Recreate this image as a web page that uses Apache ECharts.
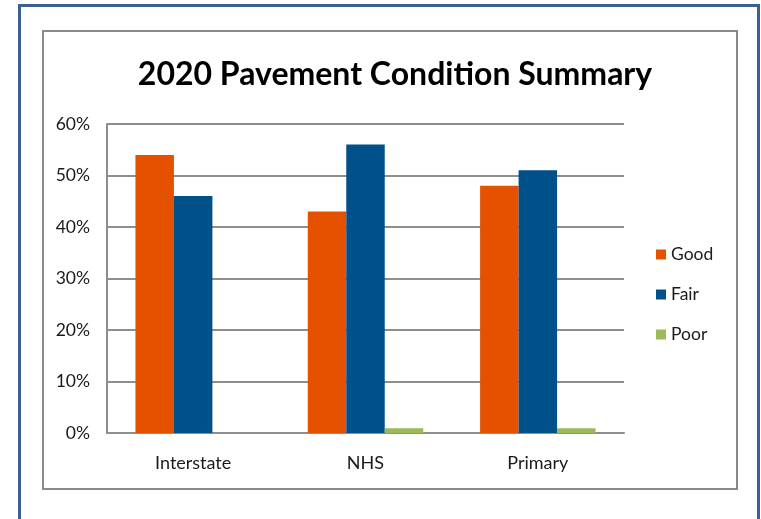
<!DOCTYPE html>
<html>
<head>
<meta charset="utf-8">
<script src="https://cdn.jsdelivr.net/npm/echarts@6/dist/echarts.min.js"></script>
<style>html,body{margin:0;padding:0;background:#fff;}#c{width:761px;height:519px;}</style>
</head>
<body>
<div id="c"></div>
<script>
var categories = ['Interstate', 'NHS', 'Primary'];
var good = [54, 43, 48];
var fair = [46, 56, 51];
var poor = [0, 0.9, 0.9];
var yTicks = [0, 10, 20, 30, 40, 50, 60];

var chart = echarts.init(document.getElementById('c'));
var font = 'Lato';
chart.setOption({
  animation: false,
  backgroundColor: '#ffffff',
  title: {
    text: '2020 Pavement Condition Summary',
    left: 390, top: 54, textAlign: 'center',
    textStyle: { fontFamily: font, fontWeight: 'bold', fontSize: 32, color: '#000' }
  },
  legend: {
    orient: 'vertical', left: 656, top: 244, padding: 0,
    itemWidth: 10, itemHeight: 10, itemGap: 19,
    icon: 'rect',
    textStyle: { fontFamily: font, fontSize: 17.5, color: '#1a1a1a', lineHeight: 21 },
    data: ['Good', 'Fair', 'Poor']
  },
  grid: { left: 107, right: 137, top: 124, bottom: 86, containLabel: false },
  xAxis: {
    type: 'category', data: categories,
    axisTick: { show: false },
    axisLine: { lineStyle: { color: '#8e8e8e', width: 2 } },
    axisLabel: { fontFamily: font, fontSize: 18, color: '#1a1a1a', margin: 21 }
  },
  yAxis: {
    type: 'value', min: 0, max: 60, interval: 10,
    axisLine: { show: true, lineStyle: { color: '#8e8e8e', width: 2 } },
    axisTick: { show: false },
    splitLine: { lineStyle: { color: '#8e8e8e', width: 2 } },
    axisLabel: { fontFamily: font, fontSize: 17.5, color: '#1a1a1a', margin: 17,
      formatter: function (v) { return yTicks.indexOf(v) >= 0 ? v + '%' : ''; } }
  },
  series: [
    { name: 'Good', type: 'bar', data: good, barGap: '0%', barCategoryGap: '33%', itemStyle: { color: '#e65100' } },
    { name: 'Fair', type: 'bar', data: fair, itemStyle: { color: '#00518a' } },
    { name: 'Poor', type: 'bar', data: poor, itemStyle: { color: '#9bbb59' } }
  ],
  graphic: [
    { type: 'rect', shape: { x: 19.5, y: 5.5, width: 739, height: 620 }, style: { fill: 'none', stroke: '#3a6094', lineWidth: 3 }, silent: true },
    { type: 'rect', shape: { x: 43, y: 31, width: 694, height: 458 }, style: { fill: 'none', stroke: '#8a8a8a', lineWidth: 2 }, silent: true }
  ]
});
</script>
</body>
</html>
